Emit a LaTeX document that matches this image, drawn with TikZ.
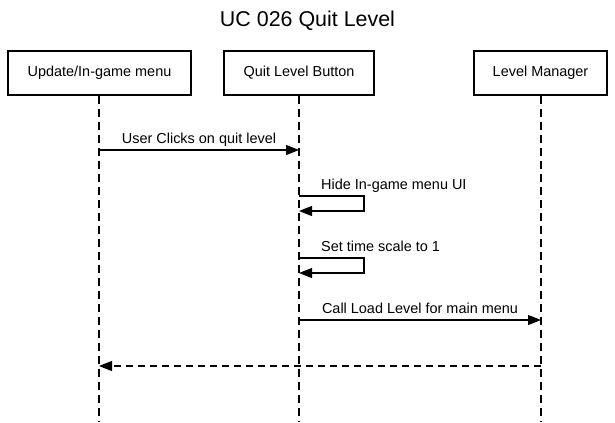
\documentclass[tikz,border=0pt]{standalone}
\usepackage{fontspec}
\setmainfont{Liberation Sans}
\usetikzlibrary{arrows.meta}
\begin{document}
\begin{tikzpicture}[x=1bp,y=-1bp,
  actor/.style={draw,line width=1.8bp,minimum width=#1,minimum height=44bp,inner sep=0pt,font=\fontsize{14.5}{17}\selectfont},
  life/.style={line width=1.1bp,dash pattern=on 8bp off 5bp},
  msg/.style={line width=1.1bp,-{Triangle[length=13bp,width=10bp]}},
  ret/.style={line width=1.1bp,dash pattern=on 7bp off 5bp,-{Triangle[length=13bp,width=10bp]}},
  lbl/.style={font=\fontsize{14.5}{17}\selectfont,inner sep=0pt}]
\useasboundingbox (0,0) rectangle (615,422);
\node[font=\fontsize{21.5}{25}\selectfont,anchor=base] (title) at (307.5,26) {UC 026 Quit Level};
\node[actor=183bp] (a) at (99.5,73) {Update/In-game menu};
\node[actor=150bp] (b) at (299,73) {Quit Level Button};
\node[actor=133bp] (c) at (540.5,73) {Level Manager};
\coordinate (ae) at (99,422);
\coordinate (be) at (299,422);
\coordinate (ce) at (541,422);
\draw[life] (a.south -| ae) -- (ae);
\draw[life] (b.south -| be) -- (be);
\draw[life] (c.south -| ce) -- (ce);
% message 1
\coordinate (m1a) at (99,150);
\coordinate (m1b) at (299,150);
\draw[msg] (m1a) -- (m1b);
\node[lbl,anchor=base] (l1) at (199,143) {User Clicks on quit level};
% self 1
\coordinate (s1a) at (299,196);
\coordinate (s1b) at (299,211);
\draw[msg] (s1a) -- (364,196) -- (364,211) -- (s1b);
\node[lbl,anchor=base west] (l2) at (321,189) {Hide In-game menu UI};
% self 2
\coordinate (s2a) at (299,258);
\coordinate (s2b) at (299,273);
\draw[msg] (s2a) -- (364,258) -- (364,273) -- (s2b);
\node[lbl,anchor=base west] (l3) at (321,251) {Set time scale to 1};
% message 3
\coordinate (m3a) at (299,320);
\coordinate (m3b) at (541,320);
\draw[msg] (m3a) -- (m3b);
\node[lbl,anchor=base] (l4) at (420,313) {Call Load Level for main menu};
% return
\coordinate (r1a) at (541,366);
\coordinate (r1b) at (99,366);
\draw[ret] (r1a) -- (r1b);
\end{tikzpicture}
\end{document}
